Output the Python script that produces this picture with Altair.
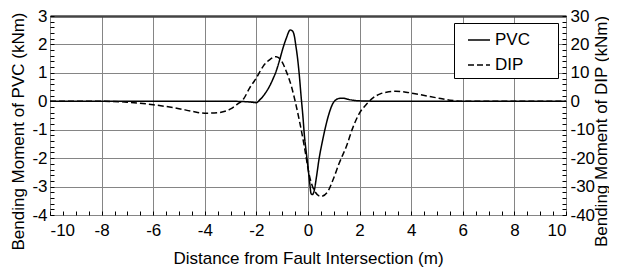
import altair as alt
import pandas as pd

# PVC bending moment (kNm), left axis
pvc_x = [-10, -6, -3, -2.5, -2.2, -2.0, -1.87, -1.74, -1.6, -1.49, -1.36, -1.23, -1.1,
         -0.98, -0.84, -0.69, -0.6, -0.53, -0.47, -0.4, -0.33, -0.27, -0.2, -0.14,
         -0.06, 0.01, 0.07, 0.12, 0.17, 0.24, 0.33, 0.43, 0.56, 0.69, 0.82, 0.95,
         1.08, 1.2, 1.35, 1.55, 1.8, 2.2, 3, 6, 10]
pvc_y = [0, 0, 0, -0.01, -0.03, -0.05, 0.05, 0.18, 0.36, 0.53, 0.78, 1.07, 1.45,
         1.84, 2.22, 2.51, 2.47, 2.3, 1.95, 1.48, 0.85, 0.2, -0.5, -1.2,
         -1.85, -2.4, -2.9, -3.25, -3.28, -3.15, -2.65, -2.02, -1.4, -0.86, -0.42, -0.1,
         0.05, 0.1, 0.11, 0.07, 0.03, 0.01, 0, 0, 0]

# DIP bending moment (kNm), right axis
dip_x = [-10, -8, -7, -6, -5, -4.5, -4, -3.5, -3.0, -2.75, -2.5, -2.26, -2.0, -1.74,
         -1.49, -1.23, -1.0, -0.85, -0.65, -0.46, -0.27, -0.14, 0.05, 0.24, 0.5,
         0.75, 0.97, 1.2, 1.49, 1.75, 2.0, 2.25, 2.52, 2.8, 3.04, 3.4, 3.8, 4.3,
         5.0, 5.5, 6.0, 8, 10]
dip_y = [0, 0, -0.3, -1.2, -2.6, -3.5, -4.2, -4.0, -2.7, -1.1, 0.8, 4.7, 8.2, 12.3,
         14.6, 15.7, 13.8, 10.7, 5.5, -1.5, -9.7, -16, -26, -31.3, -33.5,
         -32, -27.6, -22, -15.8, -9, -4.1, -1.2, 1.2, 2.6, 3.2, 3.5, 3.2, 2.4,
         1.2, 0.4, 0, 0, 0]

series = ["PVC", "DIP"]
x_ticks = [round(-10 + 0.5 * i, 1) for i in range(41)]
pvc_ticks = [round(-4 + 0.2 * i, 1) for i in range(36)]
dip_ticks = list(range(-40, 31, 2))

pvc_df = pd.DataFrame({"x": pvc_x, "y": pvc_y, "series": "PVC"})
dip_df = pd.DataFrame({"x": dip_x, "y": dip_y, "series": "DIP"})

FONT = "Liberation Sans"
GRID = "#858585"

dash = alt.StrokeDash(
    "series:N",
    scale=alt.Scale(domain=series, range=[[1, 0], [6, 3]]),
    legend=alt.Legend(
        # transparent spacer title on the right widens the box like the reference
        title="PVC", titleOrient="right", titleColor="transparent",
        titleFontSize=11, titlePadding=0,
        orient="none", legendX=404, legendY=7,
        strokeColor="black", fillColor="white", padding=5,
        symbolType="stroke", symbolSize=484, symbolStrokeWidth=1.5,
        symbolStrokeColor="black", symbolOffset=8, labelFontSize=17, labelFont=FONT,
        labelColor="black", rowPadding=5, labelOffset=4,
    ),
)

x_scale = alt.Scale(domain=[-10, 10], nice=False, zero=False)

x_enc = alt.X(
    "x:Q",
    scale=x_scale,
    axis=alt.Axis(
        values=x_ticks, offset=-4, tickSize=4, domain=False,
        labelExpr="datum.value % 2 == 0 ? '' + datum.value : ''",
        gridColor={"condition": {"test": "datum.value % 2 == 0", "value": GRID},
                   "value": "transparent"},
        grid=True, labelPadding=7, title="Distance from Fault Intersection (m)",
        titlePadding=12,
    ),
)

# top axis: only a heavier frame line, as in the reference
x_top = alt.X(
    "x:Q",
    scale=x_scale,
    axis=alt.Axis(
        orient="top", domain=True, domainColor="#444444", domainWidth=2.5,
        ticks=False, labels=False, grid=False, title=None,
    ),
)

pvc_line = alt.Chart(pvc_df).mark_line(
    color="black", strokeWidth=1.5, interpolate="monotone", clip=True
).encode(
    x=x_enc,
    y=alt.Y(
        "y:Q",
        scale=alt.Scale(domain=[-4, 3], nice=False, zero=False),
        axis=alt.Axis(
            values=pvc_ticks, offset=-4, tickSize=4, domain=False, orient="left",
            labelExpr="abs(datum.value - round(datum.value)) < 0.001 ? '' + round(datum.value) : ''",
            gridColor={"condition": {"test": "abs(datum.value - round(datum.value)) < 0.001",
                                     "value": GRID},
                       "value": "transparent"},
            grid=True, labelPadding=3, title="Bending Moment of PVC (kNm)",
            titlePadding=4, titleY=115,
        ),
    ),
    strokeDash=dash,
)

dip_line = alt.Chart(dip_df).mark_line(
    color="black", strokeWidth=1.5, interpolate="monotone", clip=True
).encode(
    x=x_top,
    y=alt.Y(
        "y:Q",
        scale=alt.Scale(domain=[-40, 30], nice=False, zero=False),
        axis=alt.Axis(
            values=dip_ticks, offset=-4, tickSize=4, domain=False, orient="right",
            labelExpr="datum.value % 10 == 0 ? '' + datum.value : ''",
            grid=False, labelPadding=4, title="Bending Moment of DIP (kNm)",
            titleAngle=270, titleY=115, titleX=39, titleBaseline="middle",
        ),
    ),
    strokeDash=dash,
)

chart = alt.layer(pvc_line, dip_line).resolve_scale(
    y="independent"
).resolve_axis(
    x="independent"
).properties(
    width=516, height=199,
    autosize=alt.AutoSizeParams(type="none"),
    padding={"left": 42, "top": 8, "right": 43, "bottom": 52},
).configure_view(
    stroke="black", strokeWidth=1
).configure_axis(
    labelFont=FONT, labelFontSize=17, labelColor="black",
    titleFont=FONT, titleFontSize=17, titleFontWeight="normal", titleColor="black",
    tickColor="black", gridWidth=1,
)

chart.save("out.html", embed_options={"renderer": "svg", "actions": False})
